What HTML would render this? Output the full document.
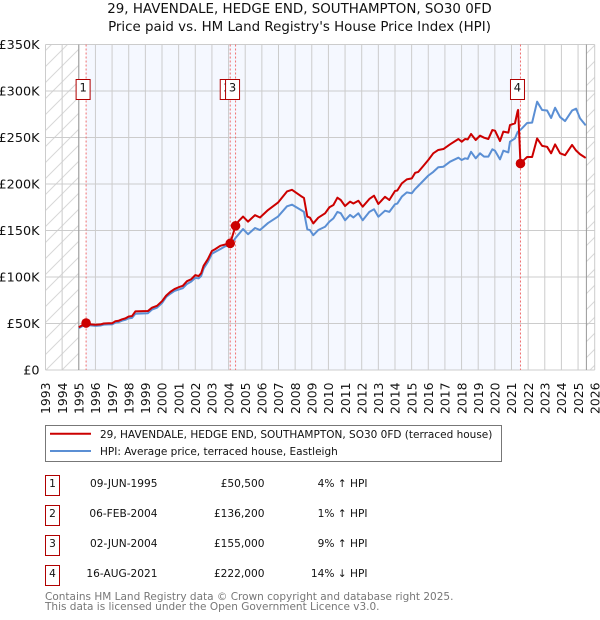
<!DOCTYPE html>
<html>
<head>
<meta charset="utf-8">
<title>29, Havendale price paid vs. HPI</title>
<style>
html,body{margin:0;padding:0;background:#fff;width:600px;height:620px;overflow:hidden}
svg{display:block}
text{font-family:"DejaVu Sans",sans-serif;fill:#111}
</style>
</head>
<body>
<svg id="chart" width="600" height="620" viewBox="0 0 600 620" xmlns="http://www.w3.org/2000/svg">
<defs>
<pattern id="hatch" patternUnits="userSpaceOnUse" width="16" height="16">
<path d="M-2,2 L2,-2 M0,16 L16,0 M14,18 L18,14" stroke="#d8d8d8" stroke-width="1" fill="none"/>
</pattern>
</defs>
<text x="299.5" y="13" text-anchor="middle" font-size="13.4">29, HAVENDALE, HEDGE END, SOUTHAMPTON, SO30 0FD</text>
<text x="299.5" y="31" text-anchor="middle" font-size="13.4">Price paid vs. HM Land Registry's House Price Index (HPI)</text>
<g id="plot"></g>

<g>
<rect x="45.5" y="425.5" width="456" height="36" fill="#fff" stroke="#777" stroke-width="1"/>
<line x1="50" x2="91" y1="433.8" y2="433.8" stroke="#cc0000" stroke-width="2"/>
<text x="100" y="438" font-size="10.5">29, HAVENDALE, HEDGE END, SOUTHAMPTON, SO30 0FD (terraced house)</text>
<line x1="50" x2="91" y1="451" y2="451" stroke="#5b8fd4" stroke-width="2"/>
<text x="100" y="455" font-size="10.5">HPI: Average price, terraced house, Eastleigh</text>
</g>
<g id="sales-table"></g>
<text x="45" y="600" font-size="10.5" style="fill:#777">Contains HM Land Registry data © Crown copyright and database right 2025.</text>
<text x="45" y="610" font-size="10.5" style="fill:#777">This data is licensed under the Open Government Licence v3.0.</text>
</svg>
<script>
const yearTicks = [1993,1994,1995,1996,1997,1998,1999,2000,2001,2002,2003,2004,2005,2006,2007,2008,2009,2010,2011,2012,2013,2014,2015,2016,2017,2018,2019,2020,2021,2022,2023,2024,2025,2026];
const priceTicks = [0,50,100,150,200,250,300,350];
const priceTickLabels = ['£0','£50K','£100K','£150K','£200K','£250K','£300K','£350K'];

const hpiDates = [1995,1995.2,1995.44,1995.7,1996,1996.3,1996.5,1996.8,1997,1997.2,1997.4,1997.6,1997.8,1998,1998.2,1998.4,1999.15,1999.4,1999.7,2000,2000.25,2000.5,2000.75,2001,2001.25,2001.5,2001.75,2002,2002.2,2002.35,2002.5,2002.75,2003,2003.2,2003.5,2003.8,2004.1,2004.42,2004.87,2005.17,2005.59,2005.89,2006.37,2006.97,2007.51,2007.81,2008.35,2008.53,2008.73,2008.89,2009.09,2009.39,2009.8,2010.06,2010.3,2010.54,2010.74,2011,2011.3,2011.5,2011.8,2012.06,2012.46,2012.74,2013,2013.4,2013.66,2014,2014.14,2014.41,2014.71,2015.01,2015.21,2015.4,2015.7,2016,2016.3,2016.6,2016.91,2017.31,2017.81,2018.01,2018.21,2018.37,2018.57,2018.85,2019.11,2019.35,2019.61,2019.85,2020.01,2020.31,2020.51,2020.81,2020.91,2021.21,2021.37,2021.52,2021.64,2021.94,2022.24,2022.54,2022.84,2023.14,2023.38,2023.62,2023.92,2024.22,2024.64,2024.88,2025.12,2025.46];
const hpiValues = [45,47,48.5,48,47.5,47.8,48.8,49,49,51,51.5,53,54,55.5,56,60.5,61,65,67,72,78.5,82,85,86.5,88,92.5,95,99,98.5,101,109,116,125,127,130,133,134,142,151.6,146,152.7,150.5,158,165,176,177.8,172,170,151.3,150.5,145,150.5,154,159.5,163,170,168.6,161,166.7,164,168.5,161,170,172.8,164.8,171.3,170,178.2,179,186.4,191,190,194.6,198,203.5,209,213,218,218.6,224,228.3,225.8,227.6,227,234.6,227.6,233,229.4,229.4,237.3,235.8,226.5,235.8,234,245.5,249,256,258,260,265.6,266,288.5,279.6,279,271,282,272,267.7,279,281,270.6,263];

const paidDates = [1995,1995.2,1995.44,1995.7,1996,1996.3,1996.5,1996.8,1997,1997.2,1997.4,1997.6,1997.8,1998,1998.2,1998.4,1999.15,1999.4,1999.7,2000,2000.25,2000.5,2000.75,2001,2001.25,2001.5,2001.75,2002,2002.2,2002.35,2002.5,2002.75,2003,2003.2,2003.5,2003.8,2004.1,2004.42,2004.6,2004.87,2005.17,2005.59,2005.89,2006.37,2006.97,2007.51,2007.81,2008.35,2008.53,2008.73,2008.89,2009.09,2009.39,2009.8,2010.06,2010.3,2010.54,2010.74,2011,2011.3,2011.5,2011.8,2012.06,2012.46,2012.74,2013,2013.4,2013.66,2014,2014.14,2014.41,2014.71,2015.01,2015.21,2015.4,2015.7,2016,2016.3,2016.6,2016.91,2017.31,2017.81,2018.01,2018.21,2018.37,2018.57,2018.85,2019.11,2019.35,2019.61,2019.85,2020.01,2020.31,2020.51,2020.81,2020.91,2021.21,2021.37,2021.4,2021.54,2021.64,2021.94,2022.24,2022.54,2022.84,2023.14,2023.38,2023.62,2023.92,2024.22,2024.64,2024.88,2025.12,2025.46];
const paidValues = [46,48,50.5,49,48.6,49,50,50.2,50.2,52.5,53,54.5,55.5,57.5,58,63,63.4,67,69,74,80,84,87,89,90.5,95.5,97.5,102,101,104,112,119,128,130,133.5,135,136.2,155,160,165,159.5,166.5,164,172,180,192,193.8,187,185,165,163.8,157.6,163.8,168.5,175,177.4,185.3,182.8,176.3,181,179,182,175.6,183.9,187.4,178.5,186.3,182.8,192.5,193,200.7,205,206,212,213,219.4,225.8,233,236.6,237.6,242.7,248.4,245.5,248.4,248,253.8,247.3,252,249.8,248.4,258,257.3,246.2,256.3,255.2,263.4,265.3,278.5,279.6,222,224,229,229,249,241,240,233,242.6,233,231,242,236,232,228];

const saleIds = ['1','2','3','4'];
const saleDates = [1995.44,2004.1,2004.42,2021.54];
const saleValues = [50.5,136.2,155,222];
const saleDateLabels = ['09-JUN-1995','06-FEB-2004','02-JUN-2004','16-AUG-2021'];
const salePriceLabels = ['£50,500','£136,200','£155,000','£222,000'];
const saleHpiLabels = ['4% ↑ HPI','1% ↑ HPI','9% ↑ HPI','14% ↓ HPI'];

const NS = 'http://www.w3.org/2000/svg';
const plot = document.getElementById('plot');
const table = document.getElementById('sales-table');

function xScale(year){ return 45.5 + (year - 1993) * (594.7 - 45.5) / 33; }
function yScale(k){ return 370 - k * (370 - 44.5) / 350; }
function make(parent, tag, attrs, text){
  const el = document.createElementNS(NS, tag);
  for (const key in attrs) el.setAttribute(key, attrs[key]);
  if (text !== undefined) el.textContent = text;
  parent.appendChild(el);
  return el;
}
function pathFrom(dates, values){
  return dates.map((d, i) => (i ? 'L' : 'M') + xScale(d).toFixed(2) + ',' + yScale(values[i]).toFixed(2)).join(' ');
}

const xLeft = xScale(1993), xRight = xScale(2026), yTop = yScale(350), yBottom = yScale(0);
const xSaleFirst = xScale(saleDates[0]), xSaleLast = xScale(saleDates[saleDates.length - 1]);
const xDataStart = xScale(1995), xDataEnd = 586.4;

let el;
el = make(plot, 'rect', {x: xSaleFirst, y: yTop, width: xSaleLast - xSaleFirst, height: yBottom - yTop, fill: '#f5f8ff'});


el = make(plot, 'rect', {x: xLeft, y: yTop, width: xDataStart - xLeft, height: yBottom - yTop, fill: 'url(#hatch)'});


el = make(plot, 'rect', {x: xDataEnd, y: yTop, width: xRight - xDataEnd, height: yBottom - yTop, fill: 'url(#hatch)'});



yearTicks.forEach(function(year){
  const x = xScale(year);
  const line = make(plot, 'line', {x1: x, x2: x, y1: yTop, y2: yBottom, stroke: '#ccc', 'stroke-width': 1});
  
  
  const label = make(plot, 'text', {x: 0, y: 0, transform: 'translate(' + (x + 4.7) + ',414) rotate(-90)', 'font-size': 12.4}, String(year));
  
  
});
priceTicks.forEach(function(k, i){
  const y = yScale(k);
  const line = make(plot, 'line', {x1: xLeft, x2: xRight, y1: y, y2: y, stroke: '#ccc', 'stroke-width': 1});
  
  
  const label = make(plot, 'text', {x: 39.5, y: y + 4.5, 'text-anchor': 'end', 'font-size': 12.8}, priceTickLabels[i]);
  
  
});

el = make(plot, 'line', {x1: xDataStart, x2: xDataStart, y1: yTop, y2: yBottom, stroke: '#999', 'stroke-width': 1});


el = make(plot, 'line', {x1: xDataEnd, x2: xDataEnd, y1: yTop, y2: yBottom, stroke: '#999', 'stroke-width': 1});



saleDates.forEach(function(d){
  const line = make(plot, 'line', {x1: xScale(d), x2: xScale(d), y1: yTop, y2: yBottom, stroke: '#f07070', 'stroke-width': 1, 'stroke-dasharray': '2,2'});
  
  
});

el = make(plot, 'path', {d: pathFrom(hpiDates, hpiValues), fill: 'none', stroke: '#5b8fd4', 'stroke-width': 2, 'stroke-linejoin': 'round'});


el = make(plot, 'path', {d: pathFrom(paidDates, paidValues), fill: 'none', stroke: '#cc0000', 'stroke-width': 2, 'stroke-linejoin': 'round'});



saleDates.forEach(function(d, i){
  const dot = make(plot, 'circle', {cx: xScale(d), cy: yScale(saleValues[i]), r: 4.8, fill: '#cc0000'});
  
  
  const box = make(plot, 'rect', {x: xScale(d) - 10, y: 79.5, width: 14, height: 20, fill: '#fff', stroke: '#b00000', 'stroke-width': 1});
  
  
  const label = make(plot, 'text', {x: xScale(d) - 3, y: 91.5, 'text-anchor': 'middle', 'font-size': 11.5}, saleIds[i]);
  
  
});

saleIds.forEach(function(id, i){
  const top = 475.5 + i * 30;
  const base = top + 11.5;
  const box = make(table, 'rect', {x: 45.5, y: top, width: 14, height: 20, fill: '#fff', stroke: '#b00000', 'stroke-width': 1});
  
  
  const num = make(table, 'text', {x: 52.5, y: base, 'text-anchor': 'middle', 'font-size': 10.6}, id);
  
  
  const dateText = make(table, 'text', {x: 157.5, y: base, 'text-anchor': 'end', 'font-size': 10.6}, saleDateLabels[i]);
  
  
  const priceText = make(table, 'text', {x: 264.5, y: base, 'text-anchor': 'end', 'font-size': 10.6}, salePriceLabels[i]);
  
  
  const hpiText = make(table, 'text', {x: 367.5, y: base, 'text-anchor': 'end', 'font-size': 10.6}, saleHpiLabels[i]);
  
  
});
</script>
</body>
</html>
